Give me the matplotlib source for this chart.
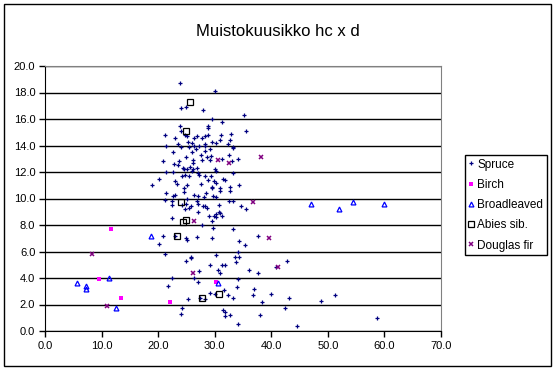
import matplotlib
matplotlib.use("Agg")
import matplotlib.pyplot as plt
from matplotlib.patches import Rectangle

plt.rcParams['font.family'] = ['Liberation Sans', 'DejaVu Sans']

# (d, hc) pairs
spruce = [
    (23.9, 18.7), (30.0, 18.1), (24.1, 16.8), (24.9, 16.9), (28.0, 16.7),
    (29.5, 16.0), (35.2, 16.3), (31.3, 15.8), (23.8, 15.5), (28.9, 15.5),
    (28.9, 15.3), (24.1, 15.1), (35.5, 15.1), (32.9, 14.9), (21.3, 14.8),
    (24.7, 14.8), (28.9, 14.8), (31.1, 14.8), (26.9, 14.7), (22.9, 14.6),
    (25.1, 14.7), (28.3, 14.7), (26.3, 14.6), (27.7, 14.6), (31.0, 14.4),
    (32.7, 14.4), (25.3, 14.3), (29.6, 14.3), (30.2, 14.2), (23.5, 14.1),
    (26.0, 14.2), (28.2, 14.1), (21.4, 14.0), (24.0, 13.9), (25.5, 13.9),
    (26.4, 14.0), (27.2, 14.0), (28.3, 14.0), (32.3, 14.1), (33.2, 13.8),
    (33.3, 13.9), (22.7, 13.5), (26.7, 13.7), (25.9, 13.5), (28.3, 13.6),
    (29.1, 13.7), (32.5, 13.3), (27.6, 13.3), (28.6, 13.1), (29.4, 13.2),
    (25.0, 13.1), (34.2, 13.0), (31.3, 13.0), (20.8, 12.8), (23.7, 12.8),
    (26.2, 12.9), (27.8, 12.9), (29.1, 12.9), (22.8, 12.6), (26.2, 12.7),
    (33.0, 12.8), (23.5, 12.5), (24.4, 12.3), (25.6, 12.4), (26.9, 12.3),
    (24.6, 12.2), (30.0, 12.2), (25.1, 12.2), (26.2, 12.2), (22.7, 12.0),
    (21.4, 12.0), (25.9, 12.1), (30.2, 12.1), (27.0, 11.9), (27.3, 11.8),
    (33.3, 11.9), (24.2, 11.7), (24.8, 11.8), (28.3, 11.7), (29.4, 11.7),
    (25.5, 11.7), (31.4, 11.5), (20.2, 11.5), (22.9, 11.3), (31.9, 11.4),
    (29.9, 11.3), (23.3, 11.1), (27.5, 11.1), (28.9, 11.4), (25.1, 11.0),
    (30.3, 11.2), (18.9, 11.0), (34.3, 11.0), (29.6, 10.9), (29.5, 10.8),
    (24.6, 10.8), (31.0, 10.8), (32.7, 10.9), (32.7, 10.6), (24.5, 10.5),
    (31.0, 10.6), (26.3, 10.3), (27.0, 10.2), (28.4, 10.4), (21.4, 10.4),
    (23.0, 10.3), (22.7, 10.2), (29.7, 10.2), (30.2, 10.1), (25.1, 10.0),
    (28.1, 10.1), (21.3, 9.9), (22.5, 9.8), (26.9, 9.8), (27.0, 9.6),
    (32.6, 9.8), (33.3, 9.8), (22.4, 9.5), (24.3, 9.5), (24.9, 9.6),
    (28.2, 9.4), (28.0, 9.4), (28.6, 9.3), (25.8, 9.4), (25.5, 9.3),
    (24.7, 9.2), (30.8, 9.5), (34.7, 9.4), (35.5, 9.2), (27.1, 9.0),
    (30.8, 9.0), (31.0, 8.9), (30.2, 8.8), (29.9, 8.7), (30.3, 8.6),
    (29.0, 8.7), (31.3, 8.7), (22.4, 8.5), (29.6, 8.3), (27.7, 8.0),
    (29.7, 7.8), (33.3, 7.7), (20.8, 7.2), (22.9, 7.2), (26.9, 7.1),
    (37.6, 7.2), (25.0, 7.0), (25.1, 6.9), (29.6, 7.0), (34.3, 6.8),
    (35.3, 6.5), (20.1, 6.6), (34.2, 6.0), (21.2, 5.8), (30.3, 5.7),
    (25.8, 5.6), (25.8, 5.5), (33.5, 5.6), (34.3, 5.6), (25.0, 5.3),
    (33.7, 5.2), (42.7, 5.3), (29.2, 5.0), (31.2, 5.0), (31.9, 5.0),
    (40.8, 4.8), (36.1, 4.6), (30.5, 4.6), (27.3, 4.5), (37.7, 4.4),
    (30.9, 4.4), (26.4, 4.0), (22.5, 4.0), (34.1, 3.9), (27.0, 3.7),
    (21.8, 3.4), (34.0, 3.3), (36.9, 3.2), (31.7, 3.1), (29.2, 2.9),
    (30.0, 2.8), (39.9, 2.8), (36.7, 2.7), (51.3, 2.7), (32.4, 2.7),
    (33.3, 2.5), (43.2, 2.5), (27.4, 2.5), (25.2, 2.4), (28.2, 2.4),
    (48.8, 2.3), (38.4, 2.2), (24.2, 1.7), (42.4, 1.7), (31.4, 1.6),
    (31.8, 1.4), (24.1, 1.3), (32.7, 1.2), (38.0, 1.2), (31.8, 1.1),
    (58.7, 1.0), (34.2, 0.5), (44.5, 0.4),
]
birch = [(11.7, 7.7), (9.5, 3.9), (13.4, 2.5), (22.1, 2.2), (30.3, 3.7)]
broadleaved = [
    (5.7, 3.6), (7.3, 3.4), (7.3, 3.2), (11.4, 4.0), (12.5, 1.7),
    (18.8, 7.2), (30.5, 3.6), (47.1, 9.6), (51.9, 9.2), (54.5, 9.7),
    (60.0, 9.6),
]
abies = [
    (25.7, 17.3), (25.0, 15.1), (24.1, 9.7), (25.0, 8.4), (24.4, 8.2),
    (23.4, 7.2), (30.8, 2.8), (27.7, 2.5),
]
douglas = [
    (8.3, 5.8), (10.9, 1.9), (26.3, 8.3), (26.1, 4.4), (30.6, 12.9),
    (32.6, 12.7), (38.2, 13.1), (36.8, 9.7), (39.6, 7.0), (41.1, 4.8),
]

W, H = 556, 369
fig = plt.figure(figsize=(W / 100, H / 100), dpi=100)
fig.patches.append(Rectangle((4 / W, 3 / H), 547 / W, 362 / H, fill=False,
                             edgecolor='black', lw=1, transform=fig.transFigure))

ax = fig.add_axes([45 / W, 1 - 331 / H, (441 - 45) / W, (331 - 66) / H])


def xy(pts):
    return [p[0] for p in pts], [p[1] for p in pts]


x, y = xy(spruce)
ax.plot(x, y, ls='none', marker='+', ms=2.5, mew=0.9, color='#000080', label='Spruce')
x, y = xy(birch)
ax.plot(x, y, ls='none', marker='s', ms=3, mew=0, color='#ff00ff', label='Birch')
x, y = xy(broadleaved)
ax.plot(x, y, ls='none', marker='^', ms=3.5, mew=0.9, mfc='none', color='#0000ff',
        label='Broadleaved')
x, y = xy(abies)
ax.plot(x, y, ls='none', marker='s', ms=4, mew=0.9, mfc='none', color='black',
        label='Abies sib.')
x, y = xy(douglas)
ax.plot(x, y, ls='none', marker='x', ms=3, mew=1.1, color='#800080',
        label='Douglas fir')

ax.set_xlim(0, 70)
ax.set_ylim(0, 20)
ax.set_xticks(range(0, 71, 10))
ax.set_yticks(range(0, 21, 2))
ax.set_xticklabels([f'{v:.1f}' for v in range(0, 71, 10)])
ax.set_yticklabels([f'{v:.1f}' for v in range(0, 21, 2)])
ax.tick_params(labelsize=8, direction='out', length=4, width=1, pad=3)
ax.yaxis.grid(True, color='black', lw=1)
ax.set_axisbelow(True)
ax.spines['top'].set_color('#808080')
ax.spines['right'].set_color('#808080')

fig.text(278 / W, 1 - 31 / H, 'Muistokuusikko hc x d', ha='center', va='center',
         fontsize=12)

leg = ax.legend(loc='upper left', bbox_to_anchor=(465 / W, 1 - 155 / H),
                bbox_transform=fig.transFigure, fontsize=8.5, frameon=True,
                fancybox=False, edgecolor='black', framealpha=1,
                handlelength=0.4, handletextpad=0.35, borderpad=0.3,
                labelspacing=0.7, borderaxespad=0)
leg.get_frame().set_linewidth(1)

fig.savefig('out.png', dpi=100)
